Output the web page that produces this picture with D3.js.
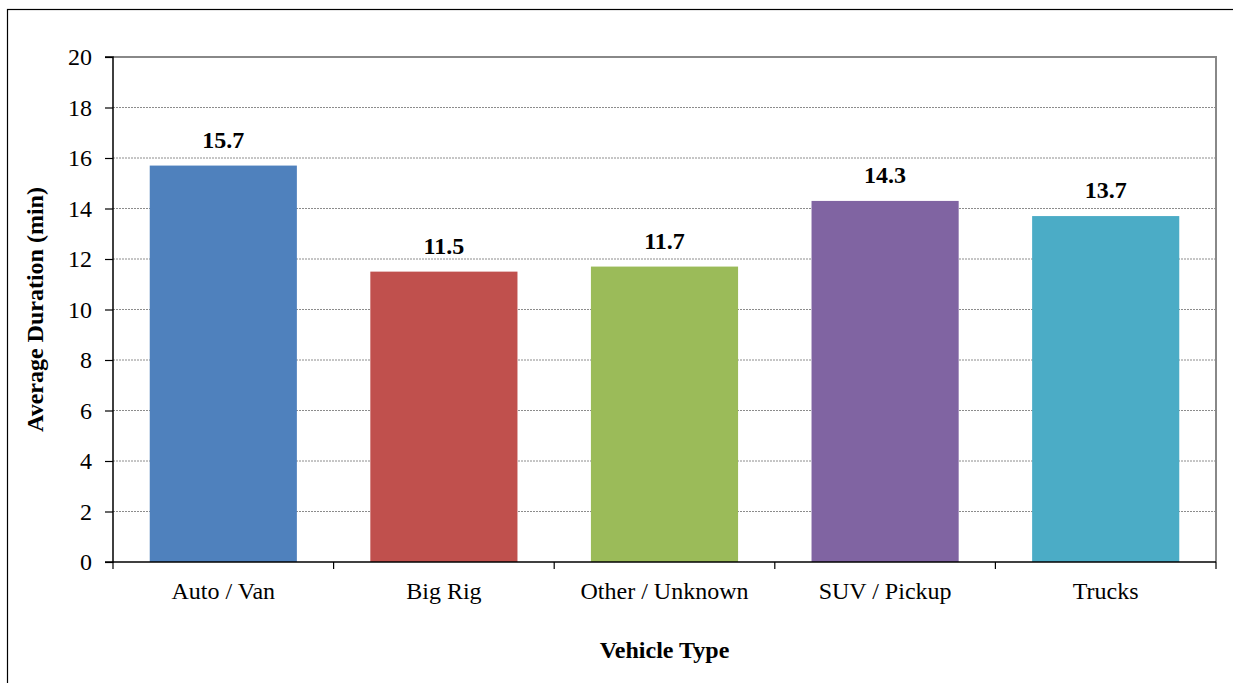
<!DOCTYPE html>
<html><head><meta charset="utf-8">
<script src="https://cdn.jsdelivr.net/npm/d3@7"></script>
<style>body{margin:0;background:#fff;}svg{display:block;}text{font-family:"Liberation Serif","Times New Roman",serif;}</style>
</head><body><svg id="c" width="1233" height="683"></svg>
<script>
const categories = ["Auto / Van", "Big Rig", "Other / Unknown", "SUV / Pickup", "Trucks"];
const values = [15.7, 11.5, 11.7, 14.3, 13.7];
const colors = ["#4F81BD", "#C0504D", "#9BBB59", "#8064A2", "#4BACC6"];
const yTicks = [0, 2, 4, 6, 8, 10, 12, 14, 16, 18, 20];
const xTitle = "Vehicle Type";
const yTitle = "Average Duration (min)";

const FS = 24;
const svg = d3.select("#c");
const m = {left: 113, top: 57, right: 1216, bottom: 562};

svg.append("rect").attr("x", 7.5).attr("y", 9.5).attr("width", 1240).attr("height", 700)
  .attr("fill", "none").attr("stroke", "#000").attr("stroke-width", 1.2);

const x = d3.scaleBand().domain(categories).range([m.left, m.right]).paddingInner(0.333).paddingOuter(0.1665);
const y = d3.scaleLinear().domain([0, 20]).range([m.bottom, m.top]);

// gridlines
svg.append("g").selectAll("line").data(yTicks.filter(d => d > 0 && d < 20)).join("line")
  .attr("x1", m.left).attr("x2", m.right).attr("y1", d => y(d)).attr("y2", d => y(d))
  .attr("stroke", "#8c8c8c").attr("stroke-width", 1).attr("stroke-dasharray", "2,1");

// plot border top & right
svg.append("path").attr("d", `M${m.left},${m.top}H${m.right}V${m.bottom}`)
  .attr("fill", "none").attr("stroke", "#888").attr("stroke-width", 2);

// bars
svg.append("g").selectAll("rect").data(values).join("rect")
  .attr("x", (d, i) => x(categories[i])).attr("width", x.bandwidth())
  .attr("y", d => y(d)).attr("height", d => y(0) - y(d))
  .attr("fill", (d, i) => colors[i]);

// value labels
svg.append("g").selectAll("text").data(values).join("text")
  .attr("x", (d, i) => x(categories[i]) + x.bandwidth() / 2)
  .attr("y", d => y(d) - 18)
  .attr("text-anchor", "middle").attr("font-weight", "bold").attr("font-size", FS)
  .text(d => d.toFixed(1));

// y axis
const yAxis = d3.axisLeft(y).tickValues(yTicks).tickSize(8).tickPadding(13).tickFormat(d3.format("d"));
const gy = svg.append("g").attr("transform", `translate(${m.left},0)`).call(yAxis);
gy.select(".domain").attr("stroke", "#000").attr("stroke-width", 1.5).attr("d", `M-8,${m.top}H0V${m.bottom}H-8`);
gy.selectAll(".tick line").attr("stroke", "#000").attr("stroke-width", 1.2);
gy.selectAll(".tick text").attr("font-size", FS).attr("fill", "#000")
  .style("font-family", '"Liberation Serif", serif').attr("dy", "0.33em");

// x axis
const xEdge = d3.scaleLinear().domain([0, categories.length]).range([m.left, m.right]);
const gx = svg.append("g").attr("transform", `translate(0,${m.bottom})`);
gx.append("line").attr("x1", m.left).attr("x2", m.right).attr("stroke", "#000").attr("stroke-width", 1.5);
gx.selectAll(".xt").data(d3.range(categories.length + 1)).join("line").attr("class", "xt")
  .attr("x1", d => xEdge(d)).attr("x2", d => xEdge(d)).attr("y1", 0).attr("y2", 7)
  .attr("stroke", "#000").attr("stroke-width", 1.2);
gx.selectAll("text").data(categories).join("text")
  .attr("x", d => x(d) + x.bandwidth() / 2).attr("y", 37)
  .attr("text-anchor", "middle").attr("font-size", FS).text(d => d);

// titles
svg.append("text").attr("x", (m.left + m.right) / 2).attr("y", 658)
  .attr("text-anchor", "middle").attr("font-weight", "bold").attr("font-size", FS).text(xTitle);
svg.append("text").attr("transform", `translate(43,${(m.top + m.bottom) / 2}) rotate(-90)`)
  .attr("text-anchor", "middle").attr("font-weight", "bold").attr("font-size", FS).text(yTitle);
</script></body></html>
